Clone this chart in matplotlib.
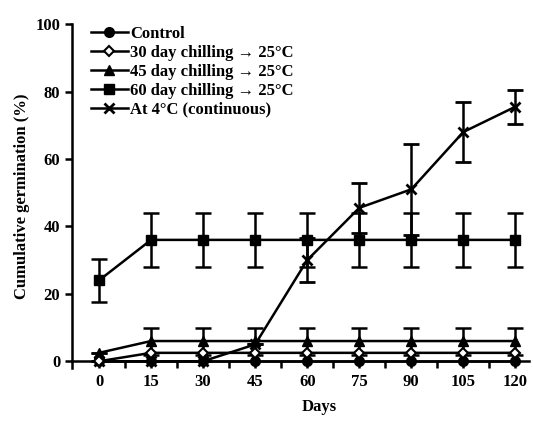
import matplotlib
matplotlib.use('Agg')
import matplotlib.pyplot as plt
from matplotlib.lines import Line2D

plt.rcParams['font.family'] = ['Liberation Serif', 'DejaVu Serif']
plt.rcParams['font.weight'] = 'bold'

# 數據
days = [0, 15, 30, 45, 60, 75, 90, 105, 120]
control = [0, 0, 0, 0, 0, 0, 0, 0, 0]
chill30 = [0, 2.5, 2.5, 2.5, 2.5, 2.5, 2.5, 2.5, 2.5]
chill45 = [2.5, 6, 6, 6, 6, 6, 6, 6, 6]
chill45_err = [0, 4, 4, 4, 4, 4, 4, 4, 4]
chill60 = [24, 36, 36, 36, 36, 36, 36, 36, 36]
chill60_err = [6.3, 8, 8, 8, 8, 8, 8, 8, 8]
cold4 = [0, 0, 0, 5, 30, 45.5, 51, 68, 75.5]
cold4_err = [0, 0, 0, 0, 6.5, 7.5, 13.5, 9, 5]

labels = ['Control',
          '30 day chilling \u2192 25\u00b0C',
          '45 day chilling \u2192 25\u00b0C',
          '60 day chilling \u2192 25\u00b0C',
          'At 4\u00b0C (continuous)']

fig = plt.figure(figsize=(5.33, 4.23), dpi=100)
ax = fig.add_axes([0.135, 0.13, 0.858, 0.813])

kw = dict(color='black', lw=1.8, ms=7, capsize=6, capthick=1.8, elinewidth=1.8)
ax.plot(days, control, marker='o', color='black', lw=1.8, ms=7, zorder=3)
ax.plot(days, chill30, marker='D', color='black', mfc='white', mew=1.5, lw=1.8, ms=5.5, zorder=4)
ax.errorbar(days, chill45, yerr=chill45_err, marker='^', **kw)
ax.errorbar(days, chill60, yerr=chill60_err, marker='s', **kw)
ax.errorbar(days, cold4, yerr=cold4_err, marker='x', mew=2, **kw)

# 圖例只顯示線和標記
handles = [
    Line2D([], [], color='black', lw=1.8, marker='o', ms=7),
    Line2D([], [], color='black', lw=1.8, marker='D', mfc='white', mew=1.5, ms=5.5),
    Line2D([], [], color='black', lw=1.8, marker='^', ms=7),
    Line2D([], [], color='black', lw=1.8, marker='s', ms=7),
    Line2D([], [], color='black', lw=1.8, marker='x', mew=2, ms=7),
]

ax.set_xlim(-7.8, 124)
ax.set_ylim(-2, 100)
ax.set_xticks(days)
ax.set_xticks([d + 7.5 for d in days[:-1]], minor=True)
ax.set_yticks([0, 20, 40, 60, 80, 100])
ax.spines['top'].set_visible(False)
ax.spines['right'].set_visible(False)
ax.spines['bottom'].set_position(('data', 0))
ax.spines['left'].set_linewidth(1.8)
ax.spines['bottom'].set_linewidth(1.8)
ax.tick_params(axis='both', which='major', labelsize=12, width=1.8, length=5)
ax.tick_params(axis='x', which='minor', width=1.8, length=5)
ax.tick_params(axis='x', pad=4)

ax.set_xlabel('Days', fontsize=12, fontweight='bold')
ax.set_ylabel('Cumulative germination (%)', fontsize=12, fontweight='bold')
ax.xaxis.set_label_coords(0.54, -0.09)

ax.legend(handles, labels, loc='upper left', bbox_to_anchor=(0.02, 1.025), frameon=False,
          fontsize=12, handlelength=2.2, handletextpad=0.15, labelspacing=0.18, borderaxespad=0.2)

fig.savefig('out.png', dpi=100)
